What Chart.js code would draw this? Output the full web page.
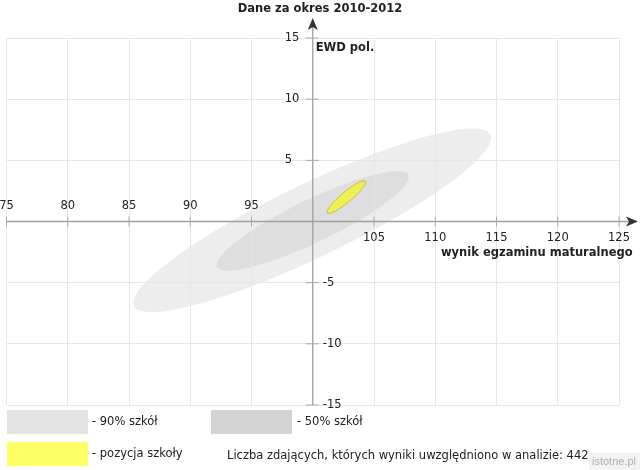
<!DOCTYPE html>
<html>
<head>
<meta charset="utf-8">
<script src="https://cdn.jsdelivr.net/npm/chart.js@4.4.1/dist/chart.umd.min.js"></script>
<style>
  body { margin: 0; background: #fff; }
  #wrap { width: 640px; height: 470px; }
</style>
</head>
<body>
<div id="wrap"><canvas id="ewdChart" width="640" height="470"></canvas></div>
<script>
// region ellipses: major axis end points (wynik, EWD) and half width across it
const regionLabels = ["90% szkół", "50% szkół", "pozycja szkoły"];
const axisStartX = [85.4, 92.2, 101.2];
const axisStartY = [-6.9, -3.7, 0.7];
const axisEndX = [114.5, 107.8, 104.3];
const axisEndY = [7.1, 3.8, 3.3];
const halfWidth = [3.0, 1.75, 0.42];

const xTicks = [75, 80, 85, 90, 95, 100, 105, 110, 115, 120, 125];
const yTicks = [-15, -10, -5, 0, 5, 10, 15];
const studentCount = 442;

const fills = ["#ededed", "#dedede", "#eeee55"];
const legendFills = ["#e3e3e3", "#d4d4d4", "#ffff66"];
const FONT = "'DejaVu Sans', sans-serif";

const ellipses = {
    id: "ellipses",
    beforeDraw(chart) {
        const ctx = chart.ctx;
        const xs = chart.scales.x;
        chart.data.datasets.forEach((ds, i) => {
            const pts = chart.getDatasetMeta(i).data;
            const x1 = pts[0].x, y1 = pts[0].y, x2 = pts[1].x, y2 = pts[1].y;
            const rx = Math.hypot(x2 - x1, y2 - y1) / 2;
            const ry = Math.abs(xs.getPixelForValue(xs.min + ds.halfWidth) - xs.getPixelForValue(xs.min));
            ctx.save();
            ctx.beginPath();
            ctx.ellipse((x1 + x2) / 2, (y1 + y2) / 2, rx, ry, Math.atan2(y2 - y1, x2 - x1), 0, Math.PI * 2);
            ctx.fillStyle = ds.backgroundColor;
            ctx.fill();
            if (ds.borderWidth) {
                ctx.lineWidth = ds.borderWidth;
                ctx.strokeStyle = ds.borderColor;
                ctx.stroke();
            }
            ctx.restore();
        });
    }
};

const axes = {
    id: "axes",
    afterDraw(chart) {
        const ctx = chart.ctx;
        const xs = chart.scales.x, ys = chart.scales.y;
        const x0 = xs.getPixelForValue(100), y0 = ys.getPixelForValue(0);
        const area = chart.chartArea;
        ctx.save();

        // axis lines
        ctx.strokeStyle = "#a0a0a0";
        ctx.lineWidth = 1.3;
        ctx.beginPath();
        ctx.moveTo(area.left, y0); ctx.lineTo(630, y0);
        ctx.moveTo(x0, area.bottom); ctx.lineTo(x0, 26);
        ctx.stroke();

        // arrows
        ctx.fillStyle = "#333";
        ctx.beginPath();
        ctx.moveTo(638, y0); ctx.lineTo(626, y0 - 5); ctx.lineTo(629, y0); ctx.lineTo(626, y0 + 5);
        ctx.closePath(); ctx.fill();
        ctx.beginPath();
        ctx.moveTo(x0, 18); ctx.lineTo(x0 - 5, 30); ctx.lineTo(x0, 27); ctx.lineTo(x0 + 5, 30);
        ctx.closePath(); ctx.fill();

        // ticks and labels
        ctx.strokeStyle = "#aaa";
        ctx.lineWidth = 1;
        ctx.fillStyle = "#222";
        ctx.font = "11.5px " + FONT;
        ctx.textBaseline = "middle";
        ctx.textAlign = "center";
        xTicks.forEach(v => {
            if (v === 100) return;
            const px = xs.getPixelForValue(v);
            ctx.beginPath(); ctx.moveTo(px, y0 - 5); ctx.lineTo(px, y0 + 5); ctx.stroke();
            ctx.fillText(String(v), px, v < 100 ? y0 - 15 : y0 + 17);
        });
        ctx.textAlign = "left";
        yTicks.forEach(v => {
            if (v === 0) return;
            const py = ys.getPixelForValue(v);
            ctx.beginPath(); ctx.moveTo(x0 - 7, py); ctx.lineTo(x0 + 6, py); ctx.stroke();
            ctx.fillText(String(v), v > 0 ? x0 - 28 : x0 + 10, py);
        });

        // titles
        ctx.font = "bold 11.5px " + FONT;
        ctx.fillText("EWD pol.", x0 + 3, 48);
        ctx.fillText("wynik egzaminu maturalnego", 441, 253);
        ctx.textAlign = "center";
        ctx.fillText("Dane za okres 2010-2012", 320, 9);

        // legend
        ctx.textAlign = "left";
        ctx.font = "11.5px " + FONT;
        const boxes = [[7, 410, 92, 422], [211, 410, 297, 422], [7, 442, 92, 454]];
        boxes.forEach((b, i) => {
            ctx.fillStyle = legendFills[i];
            ctx.fillRect(b[0], b[1], 81, 24);
            ctx.fillStyle = "#222";
            ctx.fillText("- " + regionLabels[i], b[2], b[3]);
        });
        ctx.fillText("Liczba zdających, których wyniki uwzględniono w analizie: " + studentCount, 227, 456);

        // watermark
        ctx.fillStyle = "#f2f2f2";
        ctx.fillRect(589, 453, 51, 17);
        ctx.fillStyle = "#b0b0b0";
        ctx.font = "11px 'Liberation Sans', sans-serif";
        ctx.fillText("istotne.pl", 592, 462);
        ctx.restore();
    }
};

const ctx = document.getElementById("ewdChart").getContext("2d");
new Chart(ctx, {
    type: "scatter",
    data: {
        datasets: regionLabels.map((label, i) => ({
            label: label,
            data: [{ x: axisStartX[i], y: axisStartY[i] }, { x: axisEndX[i], y: axisEndY[i] }],
            halfWidth: halfWidth[i],
            backgroundColor: fills[i],
            borderColor: "#b8b83a",
            borderWidth: i === 2 ? 0.8 : 0,
            pointRadius: 0,
            pointHoverRadius: 0,
            showLine: false
        }))
    },
    options: {
        responsive: false,
        animation: false,
        events: [],
        layout: { padding: { left: 6.5, right: 21, top: 38, bottom: 65 } },
        plugins: {
            legend: { display: false },
            tooltip: { enabled: false }
        },
        scales: {
            x: {
                type: "linear",
                min: 75,
                max: 125,
                afterFit: s => { s.height = 0; },
                afterBuildTicks: s => { s.ticks = xTicks.map(v => ({ value: v })); },
                ticks: { display: false },
                border: { display: false },
                grid: { color: "#e6e6e6", drawTicks: false }
            },
            y: {
                type: "linear",
                min: -15,
                max: 15,
                afterFit: s => { s.width = 0; },
                afterBuildTicks: s => { s.ticks = yTicks.map(v => ({ value: v })); },
                ticks: { display: false },
                border: { display: false },
                grid: { color: "#e6e6e6", drawTicks: false }
            }
        }
    },
    plugins: [ellipses, axes]
});
</script>
</body>
</html>
